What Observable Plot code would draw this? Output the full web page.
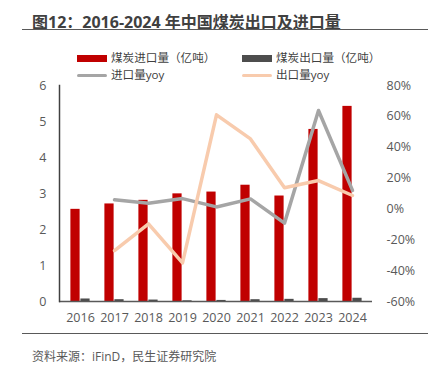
<!DOCTYPE html>
<html>
<head>
<meta charset="utf-8">
<script src="https://cdn.jsdelivr.net/npm/d3@7"></script>
<script src="https://cdn.jsdelivr.net/npm/@observablehq/plot@0.6"></script>
<style>
  html, body { margin: 0; padding: 0; background: #fff; }
  #wrap { position: relative; width: 428px; height: 371px; overflow: hidden;
          font-family: "Open Sans", "Noto Sans CJK SC", sans-serif; color: #595959; }
  #wrap svg { position: absolute; left: 0; top: 0; }
  .abs { position: absolute; white-space: nowrap; }
  #title { left: 32px; top: 9px; font-size: 16px; font-weight: bold; color: #404040;
           font-family: "Open Sans", "Noto Sans CJK SC", sans-serif; }
  #tline { left: 22px; top: 28.5px; width: 406px; height: 1.5px; background: #595959; }
  #bline { left: 22px; top: 332.5px; width: 406px; height: 1.5px; background: #595959; }
  #source { left: 32px; top: 347px; font-size: 12px; color: #595959; }
  .leg { font-size: 11.6px; color: #404040; line-height: 12px; height: 12px; }
  .sw { position: absolute; }
</style>
</head>
<body>
<div id="wrap">
  <div id="title" class="abs">图12：2016-2024 年中国煤炭出口及进口量</div>
  <div id="tline" class="abs"></div>
  <div id="bline" class="abs"></div>
  <div id="source" class="abs">资料来源：iFinD，民生证券研究院</div>
</div>
<script>
const years = ["2016","2017","2018","2019","2020","2021","2022","2023","2024"];
const imports = [2.56, 2.71, 2.81, 2.99, 3.04, 3.23, 2.93, 4.78, 5.42];
const exports = [0.07, 0.05, 0.04, 0.02, 0.03, 0.05, 0.06, 0.08, 0.09];
const importYoy = [null, 5.9, 3.7, 6.7, 1.3, 6.5, -9.2, 63.8, 12.0];
const exportYoy = [null, -27.0, -9.7, -35.0, 61.0, 45.4, 13.7, 18.4, 8.7];
const leftTicks = [0, 1, 2, 3, 4, 5, 6];
const rightTicks = [-60, -40, -20, 0, 20, 40, 60, 80];
const seriesNames = ["煤炭进口量（亿吨）", "煤炭出口量（亿吨）", "进口量yoy", "出口量yoy"];
const colors = ["#C00000", "#4D4D4D", "#A5A5A5", "#F8CBAD"];

const rMin = -60, rMax = 80, lMax = 6;
const toL = v => (v - rMin) / (rMax - rMin) * lMax;
const toR = v => v / lMax * (rMax - rMin) + rMin;

const data = years.map((y, i) => ({year: y, imp: imports[i], exp: exports[i], iy: importYoy[i], ey: exportYoy[i]}));
const impLine = data.filter(d => d.iy != null);
const expLine = data.filter(d => d.ey != null);

const W = 428, H = 371;
const mL = 59, mR = 56, mT = 85, mB = 70;
const bw = (W - mL - mR) / years.length;
const half = bw / 2, barW = 10;

const chart = Plot.plot({
  width: W, height: H,
  marginLeft: mL, marginRight: mR, marginTop: mT, marginBottom: mB,
  style: {fontFamily: "'Open Sans', 'Noto Sans CJK SC', sans-serif", fontSize: "12.5px", color: "#595959", background: "transparent"},
  x: {type: "band", domain: years, padding: 0, label: null},
  y: {domain: [0, lMax], label: null},
  marks: [
    Plot.axisX({tickSize: 0, tickPadding: 12, fontSize: 12.5, fill: "#595959", label: null}),
    Plot.axisY(leftTicks, {anchor: "left", tickSize: 0, tickPadding: 13, fontSize: 12.5, fill: "#595959", label: null}),
    Plot.axisY(rightTicks.map(toL), {anchor: "right", tickSize: 0, tickPadding: 14, fontSize: 12.5, fill: "#595959", textAnchor: "start",
      tickFormat: d => Math.round(toR(d)) + "%", label: null}),
    Plot.barY(data, {x: "year", y: "imp", fill: colors[0], insetLeft: half - barW, insetRight: half}),
    Plot.barY(data, {x: "year", y: "exp", fill: colors[1], insetLeft: half, insetRight: half - barW}),
    Plot.lineY(impLine, {x: "year", y: d => toL(d.iy), stroke: colors[2], strokeWidth: 3.5}),
    Plot.lineY(expLine, {x: "year", y: d => toL(d.ey), stroke: colors[3], strokeWidth: 3.5}),
    Plot.ruleY([0], {stroke: "#595959", strokeWidth: 1.5}),
    Plot.frame({anchor: "left", stroke: "#404040", strokeWidth: 1.5})
  ]
});
const wrap = document.getElementById("wrap");
wrap.insertBefore(chart, wrap.firstChild);

// legend
const legItems = [
  {name: seriesNames[0], color: colors[0], type: "bar", x: 77, y: 58.5},
  {name: seriesNames[1], color: colors[1], type: "bar", x: 242, y: 58.5},
  {name: seriesNames[2], color: colors[2], type: "line", x: 77, y: 75.5},
  {name: seriesNames[3], color: colors[3], type: "line", x: 242, y: 75.5}
];
legItems.forEach(it => {
  const sw = document.createElement("div");
  sw.className = "sw";
  const h = it.type === "bar" ? 7 : 3;
  sw.style.left = it.x + "px";
  sw.style.top = (it.y - h / 2) + "px";
  sw.style.width = "30px";
  sw.style.height = h + "px";
  sw.style.background = it.color;
  if (it.type === "line") sw.style.borderRadius = "1.5px";
  wrap.appendChild(sw);
  const t = document.createElement("div");
  t.className = "abs leg";
  t.textContent = it.name;
  t.style.left = (it.x + 34) + "px";
  t.style.top = (it.y - 6.5) + "px";
  wrap.appendChild(t);
});
</script>
</body>
</html>
